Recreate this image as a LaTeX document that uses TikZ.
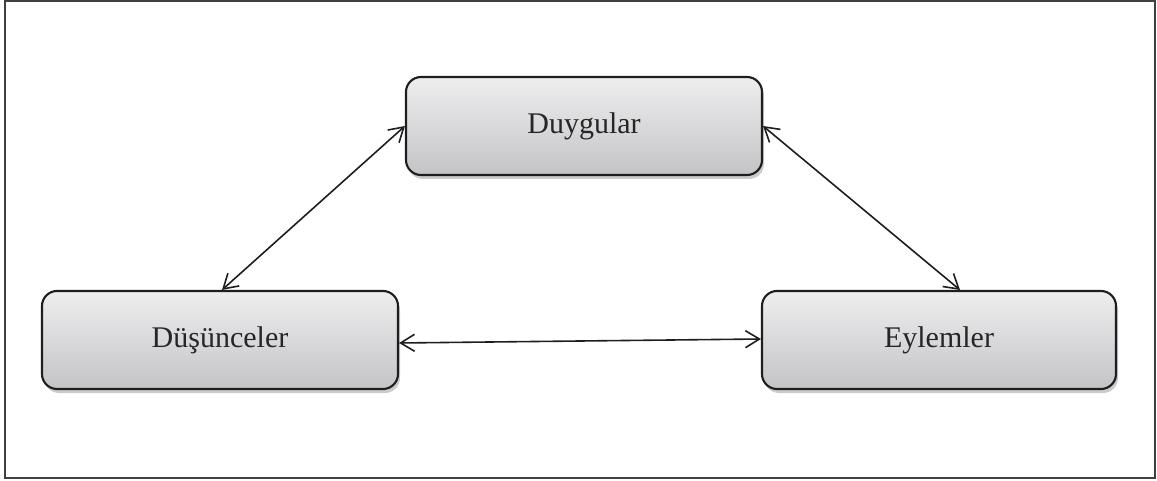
\documentclass[tikz,border=0pt]{standalone}
\usepackage{fontspec}
\setmainfont{Liberation Serif}
\usetikzlibrary{arrows.meta,shadows}
\definecolor{boxtop}{HTML}{EEEEEF}
\definecolor{boxbot}{HTML}{C4C4C7}
\definecolor{edge}{HTML}{1E1E1E}
\tikzset{
  box/.style={draw=edge, line width=2.1pt, rounded corners=15pt,
    top color=boxtop, bottom color=boxbot, minimum width=356pt, minimum height=98pt,
    inner sep=0pt, font=\fontsize{30}{35}\selectfont, text=black!85,
    drop shadow={shadow xshift=2pt, shadow yshift=-4pt, fill=black!45, opacity=0.45}},
  link/.style={line width=1.6pt, draw=edge, {Straight Barb[length=14pt,width=17pt,line width=1.6pt]}-{Straight Barb[length=14pt,width=17pt,line width=1.6pt]}}
}
\begin{document}
\begin{tikzpicture}[x=1pt,y=-1pt]
\useasboundingbox (0,0) rectangle (1157,481);
\draw[draw=black!75, line width=2.2pt] (5,1) rectangle (1155,478);
\node[box] (duy) at (584,126) {Duygular};
\node[box] (dus) at (220,340) {Düşünceler};
\node[box, minimum width=354pt] (eyl) at (939,340) {Eylemler};
\draw[link] ([xshift=2pt]dus.north) -- (duy.west);
\draw[link] (duy.east) -- ([xshift=21pt]eyl.north);
\draw[link] ([yshift=-3pt]dus.east) -- ([yshift=1pt]eyl.west);
\end{tikzpicture}
\end{document}
